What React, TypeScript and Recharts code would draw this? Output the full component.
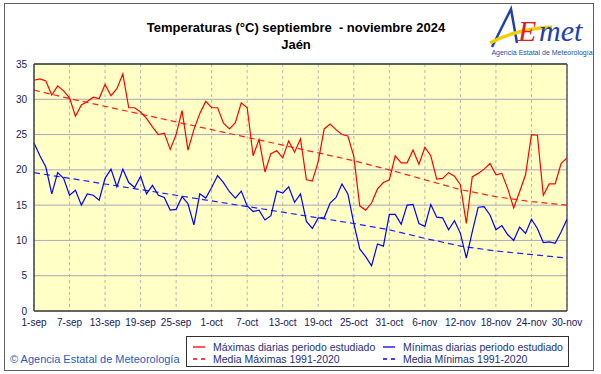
import React from "react";
import {
  LineChart,
  Line,
  XAxis,
  YAxis,
  CartesianGrid,
  ReferenceLine,
} from "recharts";

// etiquetas del eje X (cada 6 días)
const tickLabels = [
  "1-sep", "7-sep", "13-sep", "19-sep", "25-sep", "1-oct", "7-oct", "13-oct",
  "19-oct", "25-oct", "31-oct", "6-nov", "12-nov", "18-nov", "24-nov", "30-nov",
];

// máximas diarias 1-sep .. 30-nov
const tmax = [
  32.7, 32.9, 32.6, 30.6, 31.9, 31.2, 30.2, 27.6, 29.2, 29.7, 30.3, 30.1, 32.1, 30.5, 31.5, 33.6,
  28.8, 28.8, 28.2, 27.3, 26.1, 25.0, 25.2, 22.9, 25.0, 28.4, 22.8, 25.7, 28.0, 29.7, 28.8, 28.8,
  26.6, 25.8, 26.7, 29.5, 28.8, 22.0, 24.3, 19.7, 22.3, 22.7, 21.7, 24.1, 22.5, 24.4, 18.6, 18.4,
  21.2, 25.8, 26.5, 25.7, 25.0, 24.8, 21.9, 14.9, 14.3, 15.3, 17.3, 18.2, 18.6, 22.0, 21.0, 21.0,
  22.8, 20.8, 23.2, 22.0, 18.7, 18.8, 19.6, 19.1, 17.9, 12.4, 19.0, 19.5, 20.1, 20.9, 19.3, 19.5,
  17.3, 14.6, 16.9, 19.3, 25.0, 24.9, 16.4, 18.0, 18.0, 20.9, 21.7,
];

// mínimas diarias
const tmin = [
  23.8, 22.0, 20.4, 16.6, 19.6, 18.8, 16.4, 17.1, 15.0, 16.6, 16.4, 15.7, 18.8, 20.1, 17.6, 20.1,
  18.2, 17.5, 19.1, 16.6, 17.8, 16.4, 16.1, 14.3, 14.4, 16.2, 15.2, 12.2, 16.6, 16.0, 17.5, 19.2,
  18.2, 16.9, 16.0, 17.0, 14.9, 14.1, 14.3, 12.9, 13.5, 17.0, 16.7, 17.6, 15.4, 16.6, 12.7, 11.7,
  13.2, 13.2, 15.3, 16.1, 18.0, 16.6, 12.4, 8.8, 7.7, 6.4, 9.5, 9.2, 13.7, 13.7, 12.3, 15.0,
  15.1, 12.4, 12.0, 15.1, 13.3, 13.2, 11.5, 12.8, 11.0, 7.5, 11.2, 14.7, 14.8, 13.6, 11.5, 12.1,
  10.8, 10.0, 11.9, 11.0, 13.0, 11.7, 9.7, 9.8, 9.6, 11.2, 13.0,
];

const mediaMax = [31.3, 30.1, 29.0, 27.9, 26.8, 25.7, 24.6, 23.5, 22.4, 21.3, 20.0, 18.6, 17.2, 16.2, 15.5, 15.0];
const mediaMin = [19.6, 18.8, 18.0, 17.2, 16.4, 15.6, 14.8, 14.0, 13.2, 12.4, 11.5, 10.3, 9.2, 8.5, 8.0, 7.5];

const yTicks = [0, 5, 10, 15, 20, 25, 30, 35];
const xTicks = tickLabels.map((_, i) => i * 6);

const data = tmax.map((v, i) => ({
  day: i,
  tmax: v,
  tmin: tmin[i],
  mMax: i % 6 === 0 ? mediaMax[i / 6] : null,
  mMin: i % 6 === 0 ? mediaMin[i / 6] : null,
}));

const FONT = "'Liberation Sans', Arial, sans-serif";
const TXT = "#14205a";

function Logo() {
  return (
    <svg width={112} height={56} style={{ position: "absolute", left: 486, top: 3 }}>
      <path d="M6 44 L25 6 L31 40" fill="none" stroke="#2040b0" strokeWidth={2.5} />
      <path d="M4 40 Q30 26 66 24" fill="none" stroke="#f0d000" strokeWidth={3.5} />
      <text x={32} y={38} fontFamily="'Liberation Serif', serif" fontStyle="italic" fontSize={30} fill="#e02020">
        E
      </text>
      <text x={53} y={38} fontFamily="'Liberation Serif', serif" fontStyle="italic" fontSize={30} fill="#2040b0">
        met
      </text>
      <text x={56} y={52} textAnchor="middle" fontFamily={FONT} fontSize={7} fill="#2050a8">
        Agencia Estatal de Meteorología
      </text>
    </svg>
  );
}

function LegendBox() {
  const items = [
    { x: 6, y: 10, color: "#ff0000", dash: undefined, text: "Máximas diarias periodo estudiado" },
    { x: 196, y: 10, color: "#0000ff", dash: undefined, text: "Mínimas diarias periodo estudiado" },
    { x: 6, y: 22, color: "#ff0000", dash: "4 4", text: "Media Máximas 1991-2020" },
    { x: 196, y: 22, color: "#0000ff", dash: "4 4", text: "Media Mínimas 1991-2020" },
  ];
  return (
    <div
      style={{
        position: "absolute",
        left: 186,
        top: 336,
        width: 383,
        height: 31,
        boxSizing: "border-box",
        border: "1px solid #303030",
        background: "#fff",
      }}
    >
      <svg width={381} height={29} style={{ position: "absolute", left: 0, top: 0 }}>
        {items.map((it) => (
          <g key={it.text}>
            <line x1={it.x} x2={it.x + 12} y1={it.y} y2={it.y} stroke={it.color} strokeWidth={1.3} strokeDasharray={it.dash} />
            <text x={it.x + 20} y={it.y + 4} fontFamily={FONT} fontSize={10.5} fill="#1c2f7a">
              {it.text}
            </text>
          </g>
        ))}
      </svg>
    </div>
  );
}

export default function App() {
  return (
    <div style={{ position: "absolute", left: 0, top: 0, width: 601, height: 374, background: "#fff", fontFamily: FONT }}>
      <div
        style={{
          position: "absolute",
          left: 4,
          top: 3,
          width: 590,
          height: 368,
          boxSizing: "border-box",
          border: "1px solid #606060",
        }}
      />
      <div style={{ position: "absolute", left: 0, width: 592, top: 19, textAlign: "center", fontWeight: "bold", fontSize: 13, lineHeight: "17px", color: "#000" }}>
        Temperaturas (°C) septiembre&nbsp; - noviembre 2024
        <br />
        Jaén
      </div>
      <Logo />
      <div style={{ position: "absolute", left: 0, top: 0 }}>
        <LineChart width={601} height={374} data={data} margin={{ top: 64, right: 34, bottom: 43, left: 0 }}>
          <CartesianGrid horizontal vertical={false} fill="#ffffc6" stroke="#a8a8bc" strokeWidth={1} />
          <CartesianGrid horizontal={false} vertical stroke="#b4b4b4" strokeDasharray="3 3" />
          <XAxis
            type="number"
            dataKey="day"
            domain={[0, 90]}
            ticks={xTicks}
            tickFormatter={(v: number) => tickLabels[v / 6]}
            height={20}
            tickSize={0}
            tickMargin={8}
            interval={0}
            axisLine={{ stroke: "#404040", strokeWidth: 1.5 }}
            tick={{ fontSize: 10, fill: TXT, fontFamily: FONT }}
          />
          <YAxis
            domain={[0, 35]}
            ticks={yTicks}
            width={34}
            tickSize={0}
            tickMargin={7}
            interval={0}
            axisLine={{ stroke: "#404040", strokeWidth: 1.5 }}
            tick={{ fontSize: 10, fill: TXT, fontFamily: FONT }}
          />
          <ReferenceLine y={35} stroke="#304030" strokeWidth={1.5} />
          <ReferenceLine x={90} stroke="#5a5a70" strokeWidth={1.5} />
          <Line type="linear" dataKey="mMax" stroke="#ff2020" strokeWidth={1.2} strokeDasharray="6 4" dot={false} connectNulls isAnimationActive={false} />
          <Line type="linear" dataKey="mMin" stroke="#2020ff" strokeWidth={1.2} strokeDasharray="6 4" dot={false} connectNulls isAnimationActive={false} />
          <Line type="linear" dataKey="tmax" stroke="#ff0000" strokeWidth={1.2} dot={false} isAnimationActive={false} />
          <Line type="linear" dataKey="tmin" stroke="#0000ff" strokeWidth={1.2} dot={false} isAnimationActive={false} />
        </LineChart>
      </div>
      <LegendBox />
      <div style={{ position: "absolute", left: 10, top: 353, fontSize: 11, color: "#2a5cc0" }}>
        © Agencia Estatal de Meteorología
      </div>
    </div>
  );
}
